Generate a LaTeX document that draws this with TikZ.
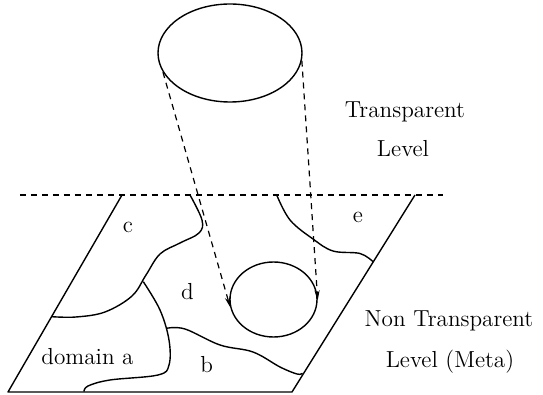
\documentclass[tikz,border=0pt]{standalone}
\usetikzlibrary{arrows.meta,shapes.geometric}
\begin{document}
\begin{tikzpicture}[x=0.5pt,y=-0.5pt,
  solidline/.style={line width=0.7pt, line join=round},
  dashline/.style={line width=0.6pt, dash pattern=on 3pt off 2.5pt},
  lbl/.style={font=\fontsize{11.6}{14}\selectfont, inner sep=0pt, anchor=base},
  oval/.style={ellipse, draw, line width=0.7pt, inner sep=0pt},
  boundary/.style={line width=0.7pt, smooth, tension=0.6}]
\useasboundingbox (0,0) rectangle (543,395);
% ellipses
\node[oval, minimum width=72pt, minimum height=49pt] (top) at (230,53) {};
\node[oval, minimum width=43.5pt, minimum height=37.5pt] (bot) at (273.5,299.5) {};
% parallelogram
\coordinate (bl) at (8,392);
\coordinate (br) at (292,392);
\coordinate (tl) at (122,195);
\coordinate (tr) at (415,195);
\draw[solidline] (tl) -- (bl) -- (br) -- (tr);
% dashed level line
\coordinate (dl) at (20,195);
\coordinate (dr) at (443,195);
\draw[dashline] (dl) -- (dr);
% projection arrows
\draw[dashline, -{Stealth[length=5pt,width=2.6pt]}] (top.196) -- (bot.190);
\draw[dashline, -{Stealth[length=5pt,width=2.6pt]}] (top.354) -- (bot.359);
% domain boundaries
\draw[boundary] plot coordinates {(190,195) (202,220) (199,233) (180,243) (160,254) (146,275) (132,296) (105,312) (76,317) (51.7,316.7)};
\draw[boundary] plot coordinates {(143.3,281.7) (160,310) (169,340) (169,365) (158,375) (110,380) (88,386) (84,391.7)};
\draw[boundary] plot coordinates {(166.7,328.3) (185,329) (220,345) (253,352) (280,367) (297,374) (302.5,373.3)};
\draw[boundary] plot coordinates {(276.7,195) (290,220) (313,239) (333,251) (360,253.5) (373,261.7)};
% labels
\node[lbl] (lc) at (128,233) {c};
\node[lbl] (ld) at (187.5,300) {d};
\node[lbl] (le) at (358,223) {e};
\node[lbl] (la) at (87.5,365) {domain a};
\node[lbl] (lb) at (206.7,373) {b};
\node[lbl] (t1) at (405,118) {Transparent};
\node[lbl] (t2) at (403,157) {Level};
\node[lbl] (n1) at (449,327) {Non Transparent};
\node[lbl] (n2) at (450,368) {Level (Meta)};
\end{tikzpicture}
\end{document}
